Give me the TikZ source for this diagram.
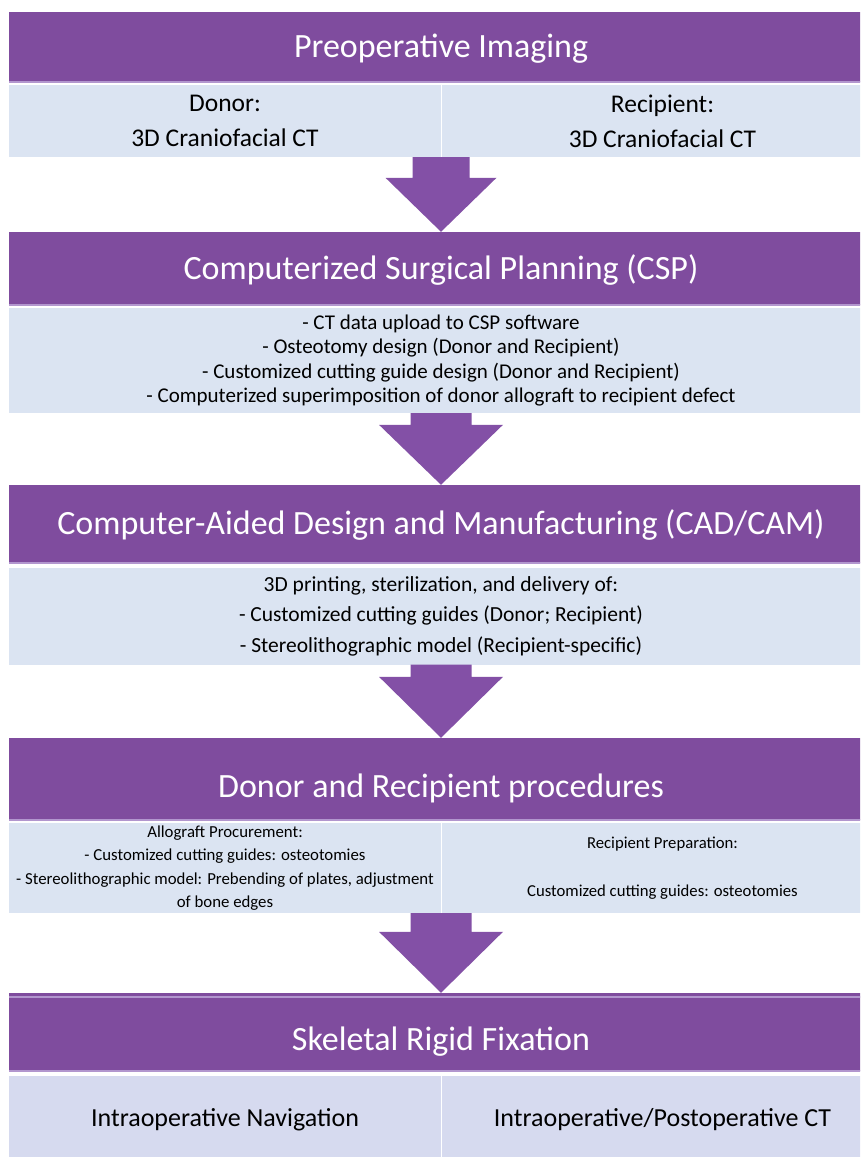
\documentclass[tikz,border=0pt]{standalone}
\usepackage{fontspec}
\setmainfont{Carlito}
\usetikzlibrary{calc}

\definecolor{hdr}{RGB}{127,76,158}
\definecolor{hdredge}{RGB}{178,150,206}
\definecolor{arrowc}{RGB}{131,80,166}
\definecolor{bandc}{RGB}{219,228,242}
\definecolor{bandlav}{RGB}{214,218,239}

\tikzset{
  header/.style={fill=hdr, text=white, inner sep=0pt, minimum width=864pt,
    text height=28pt, text depth=7pt, font=\fontsize{34}{40}\selectfont},
  band/.style={fill=bandc, text=black, inner sep=0pt, minimum width=864pt,
    align=center},
  colband/.style={band, minimum width=#1},
  arrowfill/.style={fill=arrowc},
}

% block arrow from the bottom of a band to the top of the next header
% #1 source node, #2 target node, #3 shaft half width, #4 head half width, #5 head length
\newcommand{\flowarrow}[5]{%
  \fill[arrowfill]
    ($(#1.south -| #2.north)+(-#3,0)$) -- ($(#1.south -| #2.north)+(#3,0)$)
    -- ($(#2.north)+(#3,-#5)$) -- ($(#2.north)+(#4,-#5)$)
    -- (#2.north)
    -- ($(#2.north)+(-#4,-#5)$) -- ($(#2.north)+(-#3,-#5)$) -- cycle;}

\begin{document}
\begin{tikzpicture}[x=1pt,y=-1pt]
\useasboundingbox (0,0) rectangle (860,1157);
\clip (0,0) rectangle (860,1157);
\fill[white] (0,0) rectangle (860,1157);

% ---- Preoperative Imaging
\node[header, minimum height=70pt] (h1) at (441,47) {Preoperative Imaging};
\node[colband=432pt, minimum height=72pt, font=\fontsize{25.5}{35}\selectfont]
  (b1l) at (225,121) {Donor:\\3D Craniofacial CT};
\node[colband=441pt, minimum height=72pt, font=\fontsize{25.5}{35}\selectfont]
  (b1r) at (662.5,121) {Recipient:\\3D Craniofacial CT};

% ---- Computerized Surgical Planning
\node[header, minimum height=73pt] (h2) at (441,268.5) {Computerized Surgical Planning (CSP)};
\node[band, minimum height=105pt, font=\fontsize{21}{24.5}\selectfont]
  (b2) at (441,360.5) {- CT data upload to CSP software\\
  - Osteotomy design (Donor and Recipient)\\
  - Customized cutting guide design (Donor and Recipient)\\
  - Computerized superimposition of donor allograft to recipient defect};

% ---- CAD/CAM
\node[header, minimum height=78pt] (h3) at (441,524) {Computer-Aided Design and Manufacturing (CAD/CAM)};
\node[band, minimum height=97pt, font=\fontsize{21.5}{30.5}\selectfont]
  (b3) at (441,616) {3D printing, sterilization, and delivery of:\\
  - Customized cutting guides (Donor; Recipient)\\
  - Stereolithographic model (Recipient-specific)};

% ---- Donor and Recipient procedures
\node[header, minimum height=82pt, text height=44pt] (h4) at (441,779) {Donor and Recipient procedures};
\node[colband=432pt, minimum height=90pt, font=\fontsize{16.8}{23.5}\selectfont]
  (b4l) at (225,868) {Allograft Procurement:\\
  - Customized cutting guides: osteotomies\\
  - Stereolithographic model: Prebending of plates, adjustment\\
  of bone edges};
\node[colband=441pt, minimum height=90pt, font=\fontsize{16.7}{48}\selectfont]
  (b4r) at (662.5,868) {Recipient Preparation:\\Customized cutting guides: osteotomies};

% ---- Skeletal Rigid Fixation
\node[header, minimum height=78pt, text height=44pt] (h5) at (441,1032) {Skeletal Rigid Fixation};
\node[colband=432pt, fill=bandlav, minimum height=88pt, font=\fontsize{26}{30}\selectfont]
  (b5l) at (225,1120) {Intraoperative Navigation};
\node[colband=441pt, fill=bandlav, minimum height=88pt, font=\fontsize{26}{30}\selectfont]
  (b5r) at (662.5,1120) {Intraoperative/Postoperative CT};

% light edges under the headers
\foreach \h in {h1,h2,h3,h4,h5}
  \draw[hdredge, line width=1.5pt] (\h.south west) -- (\h.south east);
\draw[hdredge, line width=2pt] ($(h5.north west)+(0,4)$) -- ($(h5.north east)+(0,4)$);

% ---- block arrows between the stages
\flowarrow{b1l}{h2}{28.5}{55.5}{54}
\flowarrow{b2}{h3}{30.5}{62}{60}
\flowarrow{b3}{h4}{30.5}{62}{61}
\flowarrow{b4l}{h5}{30.5}{62}{61}
\end{tikzpicture}
\end{document}
